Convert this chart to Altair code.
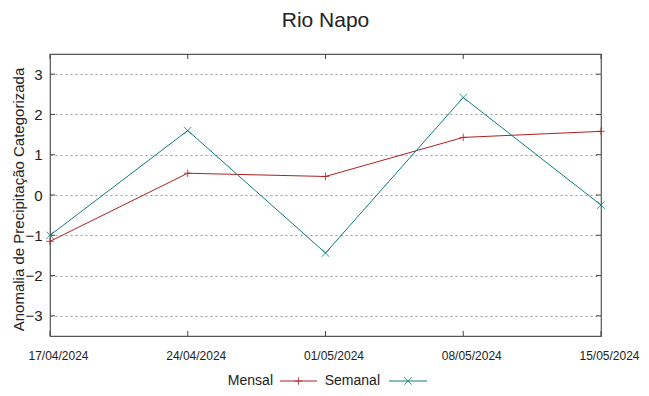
import altair as alt
import pandas as pd

dates = ["17/04/2024", "24/04/2024", "01/05/2024", "08/05/2024", "15/05/2024"]
mensal = [-1.15, 0.54, 0.46, 1.43, 1.58]
semanal = [-1.0, 1.60, -1.44, 2.42, -0.25]
series_names = ["Mensal", "Semanal"]
colors = ["#b01f1f", "#0e7b7b"]
y_ticks = [-3, -2, -1, 0, 1, 2, 3]

PLUS = "M-1,0H1M0,-1V1"
CROSS = "M-1,-1L1,1M-1,1L1,-1"
shapes = [PLUS, CROSS]

W, H = 551, 282

df = pd.DataFrame({
    "date": dates * 2,
    "value": mensal + semanal,
    "serie": [series_names[0]] * len(dates) + [series_names[1]] * len(dates),
})
yt = pd.DataFrame({"value": y_ticks})
xt = pd.DataFrame({"date": dates})

x_enc = alt.X(
    "date:O",
    sort=None,
    scale=alt.Scale(type="point", domain=dates, padding=0),
    axis=alt.Axis(title=None, labelAngle=0, tickSize=0, domain=False, grid=False,
                  labelPadding=14, labelOffset=8, labelFont="Liberation Sans",
                  labelFontSize=12, labelColor="#222", labelOverlap=False),
)
y_enc = alt.Y(
    "value:Q",
    scale=alt.Scale(domain=[-3.5, 3.5], nice=False, zero=False),
    axis=alt.Axis(values=y_ticks, format="d", tickSize=0, domain=False,
                  labelFontSize=15, labelPadding=8, labelColor="#222",
                  grid=True, gridColor="#999", gridDash=[2, 3], gridWidth=1,
                  title="Anomalia de Precipitação Categorizada",
                  titleFontSize=15, titleFontWeight="normal", titleColor="#222",
                  titleAngle=-90, titleX=-32, titleY=H / 2 + 4,
                  titleAlign="center", titleBaseline="middle"),
)

color_enc = alt.Color("serie:N", scale=alt.Scale(domain=series_names, range=colors), legend=None)
shape_enc = alt.Shape("serie:N", scale=alt.Scale(domain=series_names, range=shapes), legend=None)

base = alt.Chart(df).encode(x=x_enc, y=y_enc, color=color_enc)
lines = base.mark_line(strokeWidth=1)
points = base.mark_point(filled=False, size=56, strokeWidth=1, opacity=0.8).encode(shape=shape_enc)

tick_col = "#444"
lt = alt.Chart(yt).mark_rule(color=tick_col, strokeWidth=1).encode(y=y_enc, x=alt.value(0), x2=alt.value(5))
rt = alt.Chart(yt).mark_rule(color=tick_col, strokeWidth=1).encode(y=y_enc, x=alt.value(W - 5), x2=alt.value(W))
bt = alt.Chart(xt).mark_rule(color=tick_col, strokeWidth=1).encode(x=x_enc, y=alt.value(H - 5), y2=alt.value(H))
tt = alt.Chart(xt).mark_rule(color=tick_col, strokeWidth=1).encode(x=x_enc, y=alt.value(0), y2=alt.value(5))

# manual gnuplot-style key
leg_y = 327
text_right = [223, 330]
samp_start = [230, 339]
samp_end = [267, 377]
legend_layers = []
for i, name in enumerate(series_names):
    ld = pd.DataFrame({"label": [name]})
    legend_layers.append(
        alt.Chart(ld).mark_text(align="right", baseline="middle", fontSize=14, color="#222")
        .encode(text="label:N", x=alt.value(text_right[i]), y=alt.value(leg_y))
    )
    legend_layers.append(
        alt.Chart(ld).mark_rule(color=colors[i], strokeWidth=1)
        .encode(x=alt.value(samp_start[i]), x2=alt.value(samp_end[i]), y=alt.value(leg_y))
    )
    legend_layers.append(
        alt.Chart(ld).mark_point(filled=False, size=56, strokeWidth=1, color=colors[i], shape=shapes[i], opacity=0.8)
        .encode(x=alt.value((samp_start[i] + samp_end[i]) / 2), y=alt.value(leg_y))
    )

chart = alt.layer(lines, points, lt, rt, bt, tt, *legend_layers).properties(
    width=W,
    height=H,
    autosize=alt.AutoSizeParams(type="none"),
    padding={"left": 42, "top": 46, "right": 40, "bottom": 52},
    title=alt.TitleParams("Rio Napo", fontSize=21, fontWeight="normal", color="#222",
                          anchor="middle", offset=23),
).configure(
    font="Liberation Sans",
).configure_view(
    stroke="#555", strokeWidth=1.2,
)

chart.save("out.html", embed_options={"renderer": "svg", "actions": False})
